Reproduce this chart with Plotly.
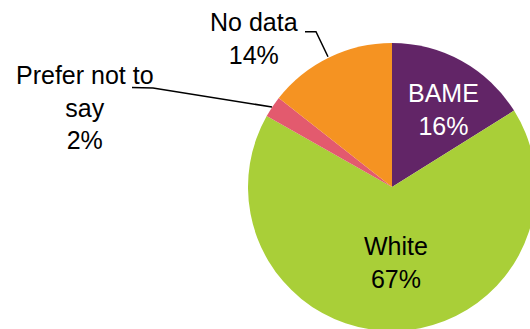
import plotly.graph_objects as go

categories = ["BAME", "White", "Prefer not to say", "No data"]
values = [16.1, 67.1, 2.4, 14.4]
colors = ["#622567", "#A9CF38", "#E35A6E", "#F59322"]
label_text = ["BAME", "White", "Prefer not to<br>say", "No data"]

W, H = 536, 331
cx, cy, r = 392, 186.7, 144

fig = go.Figure(go.Pie(
    labels=categories, values=values, sort=False, direction="clockwise",
    rotation=0, textinfo="none", hoverinfo="label+percent",
    marker=dict(colors=colors, line=dict(width=0)),
    domain=dict(x=[(cx - r) / W, 1.0], y=[0, 2 * r / H]),
    showlegend=False,
))

total = sum(values)
pct = [f"{round(v / total * 100):d}%" for v in values]

label_pos = [(443, 109, "white"), (396, 262, "black"), (85, 108, "black"), (254, 38, "black")]
for t, p, (x, y, c) in zip(label_text, pct, label_pos):
    fig.add_annotation(
        x=x / W, y=1 - y / H, xref="paper", yref="paper",
        text=f"{t}<br>{p}", showarrow=False, xanchor="center", yanchor="middle",
        font=dict(family="Liberation Sans, Arial, sans-serif", size=25, color=c),
    )

def path(pts):
    return "M " + " L ".join(f"{x / W:.5f},{1 - y / H:.5f}" for x, y in pts)

leaders = [
    [(305, 31.7), (316, 31.7), (328, 56.7)],
    [(132, 87.5), (153, 88), (272, 107)],
]
for pts in leaders:
    fig.add_shape(type="path", path=path(pts), xref="paper", yref="paper",
                  line=dict(color="black", width=1.5))

fig.update_layout(
    width=W, height=H, margin=dict(l=0, r=0, t=0, b=0),
    paper_bgcolor="white", plot_bgcolor="white",
)
fig.write_html("out.html")
